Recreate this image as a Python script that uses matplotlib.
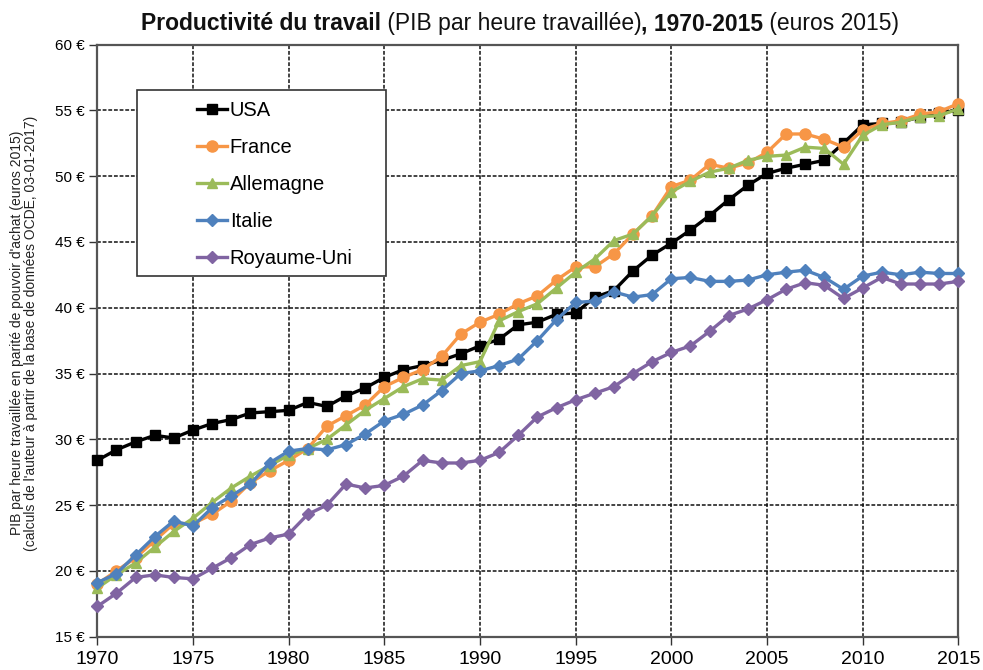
import matplotlib
matplotlib.use("Agg")
import matplotlib.pyplot as plt
from matplotlib import font_manager as fm
from matplotlib.patches import Rectangle

years = list(range(1970, 2016))
usa = [28.4, 29.2, 29.8, 30.3, 30.1, 30.7, 31.2, 31.5, 32.0, 32.1,
       32.2, 32.8, 32.5, 33.3, 33.9, 34.7, 35.3, 35.6, 36.0, 36.5,
       37.1, 37.6, 38.7, 38.9, 39.5, 39.6, 40.8, 41.3, 42.8, 44.0,
       44.9, 45.9, 47.0, 48.2, 49.3, 50.2, 50.6, 50.9, 51.2, 52.5,
       53.9, 54.0, 54.1, 54.5, 54.8, 55.0]
france = [19.0, 20.0, 21.0, 22.3, 23.6, 23.6, 24.3, 25.3, 26.7, 27.6,
          28.4, 29.3, 31.0, 31.8, 32.6, 34.0, 34.7, 35.3, 36.3, 38.0,
          38.9, 39.5, 40.3, 40.9, 42.1, 43.1, 43.1, 44.1, 45.6, 47.0,
          49.2, 49.7, 50.9, 50.6, 51.0, 51.8, 53.2, 53.2, 52.8, 52.2,
          53.5, 54.0, 54.2, 54.7, 54.9, 55.5]
allemagne = [18.7, 19.7, 20.6, 21.8, 23.0, 24.0, 25.2, 26.3, 27.2, 28.0,
             28.8, 29.3, 30.0, 31.1, 32.2, 33.1, 34.0, 34.6, 34.5, 35.6,
             35.9, 39.0, 39.7, 40.3, 41.5, 42.7, 43.7, 45.1, 45.6, 47.0,
             48.8, 49.6, 50.3, 50.6, 51.2, 51.5, 51.6, 52.2, 52.1, 50.9,
             53.1, 53.9, 54.1, 54.5, 54.6, 55.1]
italie = [19.1, 19.8, 21.2, 22.6, 23.8, 23.4, 24.8, 25.7, 26.6, 28.2,
          29.1, 29.3, 29.2, 29.6, 30.4, 31.4, 31.9, 32.6, 33.7, 35.0,
          35.2, 35.6, 36.1, 37.5, 39.1, 40.4, 40.5, 41.2, 40.8, 41.0,
          42.2, 42.3, 42.0, 42.0, 42.1, 42.5, 42.7, 42.85, 42.3, 41.4,
          42.4, 42.7, 42.5, 42.7, 42.6, 42.6]
royaume_uni = [17.3, 18.3, 19.5, 19.7, 19.5, 19.4, 20.2, 21.0, 22.0, 22.5,
               22.8, 24.3, 25.0, 26.6, 26.3, 26.5, 27.2, 28.4, 28.2, 28.2,
               28.4, 29.0, 30.3, 31.7, 32.4, 33.0, 33.5, 34.0, 35.0, 35.9,
               36.6, 37.1, 38.2, 39.4, 39.9, 40.6, 41.4, 41.9, 41.7, 40.7,
               41.5, 42.3, 41.8, 41.8, 41.8, 42.0]

series_names = ["USA", "France", "Allemagne", "Italie", "Royaume-Uni"]
series_values = [usa, france, allemagne, italie, royaume_uni]
x_ticks = list(range(1970, 2016, 5))
y_ticks = list(range(15, 61, 5))
y_tick_labels = [f"{v} €" for v in y_ticks]

colors = ["#000000", "#F79646", "#9BBB59", "#4F81BD", "#8064A2"]
markers = ["s", "o", "^", "D", "D"]
msizes = [6.5, 8, 7.5, 6, 6]

avail = {f.name for f in fm.fontManager.ttflist}
fam = "Liberation Sans Narrow" if "Liberation Sans Narrow" in avail else "Liberation Sans"
plt.rcParams["font.family"] = [fam, "DejaVu Sans"]

W, H = 983, 670
fig = plt.figure(figsize=(W / 100, H / 100), dpi=100)
left, right, top, bottom = 97.3, 958.3, 44.5, 636.7
ax = fig.add_axes([left / W, 1 - bottom / H, (right - left) / W, (bottom - top) / H])

for name, vals, c, m, ms in zip(series_names, series_values, colors, markers, msizes):
    ax.plot(years, vals, color=c, marker=m, markersize=ms, linewidth=2.4,
            label=name, markeredgecolor=c, clip_on=False, zorder=3)

ax.set_xlim(1970, 2015)
ax.set_ylim(15, 60)
ax.set_xticks(x_ticks)
ax.set_xticklabels([str(x) for x in x_ticks], fontsize=14)
ax.set_yticks(y_ticks)
ax.set_yticklabels(y_tick_labels, fontsize=11)
ax.tick_params(axis="both", direction="out", length=6, width=1, color="#333333")
ax.tick_params(axis="x", pad=4)
ax.tick_params(axis="y", pad=3)
ax.grid(True, color="#111111", linestyle=(0, (2.5, 1.2)), linewidth=1.1, zorder=1)
ax.set_axisbelow(True)
for sp in ax.spines.values():
    sp.set_color("#555555")
    sp.set_linewidth(1.6)

ax.text((24 - left) / (right - left), (bottom - 333) / (bottom - top),
        "PIB par heure travaillée en parité de pouvoir d'achat (euros 2015)\n"
        "(calculs de l'auteur à partir de la base de données OCDE, 03-01-2017)",
        rotation=90, ha="center", va="center", fontsize=10, color="#222222",
        transform=ax.transAxes, linespacing=1.0)

# legend box
bx0, by0, bx1, by1 = 137, 90, 386, 276
ax.add_patch(Rectangle((bx0 / W, 1 - by1 / H), (bx1 - bx0) / W, (by1 - by0) / H,
                       transform=fig.transFigure, facecolor="white",
                       edgecolor="#333333", linewidth=1.2, zorder=4))
leg = ax.legend(loc="upper left",
                bbox_to_anchor=((197 - left) / (right - left), (bottom - 101) / (bottom - top)),
                frameon=False, fontsize=14.5, handlelength=1.5, handletextpad=0.12,
                labelspacing=0.9, borderaxespad=0, borderpad=0)
leg.set_zorder(5)

# title in pieces
fig.canvas.draw()
r = fig.canvas.get_renderer()
pieces = [("Productivité du travail", "bold"), (" (PIB par heure travaillée)", "normal"),
          (", 1970-2015", "bold"), (" (euros 2015)", "normal")]
texts = []
for s, w in pieces:
    t = fig.text(0, 1 - 30 / H, s, fontsize=16.5, fontweight=w, ha="left",
                 va="baseline", color="#111111")
    texts.append(t)
widths = [t.get_window_extent(r).width for t in texts]
total = sum(widths)
x = 520 - total / 2
for t, wd in zip(texts, widths):
    t.set_x(x / W)
    x += wd

fig.savefig("out.png", dpi=100)
